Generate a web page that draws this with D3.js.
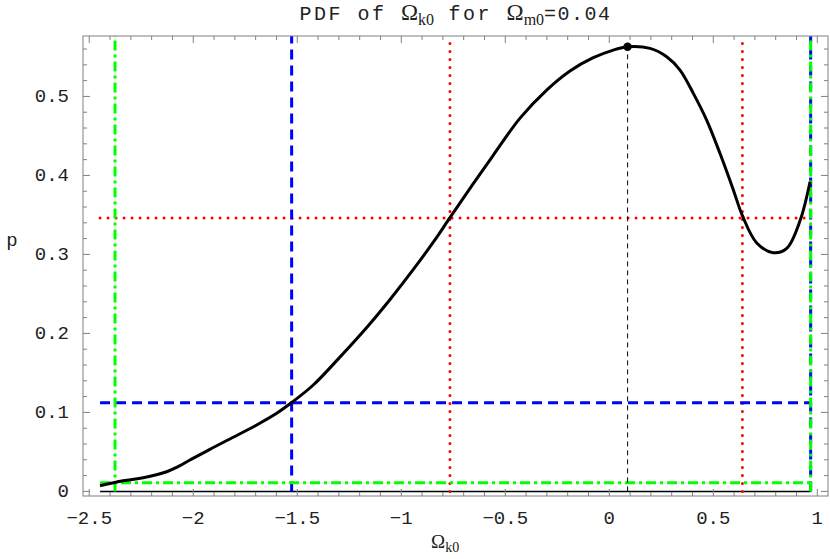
<!DOCTYPE html>
<html>
<head>
<meta charset="utf-8">
<script src="https://cdn.jsdelivr.net/npm/d3@7"></script>
<style>
  html, body { margin: 0; padding: 0; background: #fff; }
  svg { display: block; }
</style>
</head>
<body>
<svg id="chart" width="830" height="559"></svg>
<script>
// ---- Data ----
const curveX = [-2.448, -2.337, -2.240, -2.128, -2.080, -2.016, -1.920, -1.808, -1.695, -1.599,
  -1.527, -1.423, -1.295, -1.166, -1.054, -0.942, -0.846, -0.766, -0.658, -0.558,
  -0.429, -0.301, -0.189, -0.077, 0.019, 0.088, 0.196, 0.276, 0.340, 0.404,
  0.468, 0.532, 0.596, 0.640, 0.709, 0.788, 0.853, 0.918, 0.965];
const curveP = [0.0072, 0.0135, 0.0173, 0.0249, 0.0305, 0.0397, 0.0533, 0.0685, 0.0841, 0.0989,
  0.1125, 0.1347, 0.1700, 0.2075, 0.2430, 0.2810, 0.3155, 0.3465, 0.3880, 0.4255,
  0.4725, 0.5080, 0.5322, 0.5490, 0.5587, 0.5629, 0.5609, 0.5503, 0.5334, 0.5039,
  0.4701, 0.4280, 0.3820, 0.3490, 0.3145, 0.3022, 0.3077, 0.3435, 0.3920];
const peak = { x: 0.088, p: 0.5629 };
const dataRange = [-2.448, 0.968];
const greenLevel = { xs: [-2.376, 0.968], p: 0.0108 };   // dash-dot
const blueLevel  = { xs: [-1.527, 0.968], p: 0.1123 };   // dashed
const redLevel   = { xs: [-0.766, 0.640], p: 0.346 };    // dotted
const xTicks = [-2.5, -2, -1.5, -1, -0.5, 0, 0.5, 1];
const xMinor = d3.range(-25, 11).map(d => d / 10);
const yTicks = [0, 0.1, 0.2, 0.3, 0.4, 0.5];
const yMinor = d3.range(0, 29).map(d => d / 50);
const xDomain = [-2.530, 1.0514];
const yDomain = [-0.00582, 0.5765];

// ---- Layout ----
const svg = d3.select("#chart");
const L = 83, R = 828, T = 36, B = 496;
const x = d3.scaleLinear().domain(xDomain).range([L, R]);
const y = d3.scaleLinear().domain(yDomain).range([B, T]);
const mono = "'Liberation Mono', 'DejaVu Sans Mono', monospace";
const serif = "'Liberation Serif', 'DejaVu Serif', serif";
const frameColor = "#808080";

// Reference lines
const g = svg.append("g");
function hline(p) {
  return g.append("line").attr("x1", x(dataRange[0])).attr("x2", x(dataRange[1]))
    .attr("y1", y(p)).attr("y2", y(p));
}
function vline(xv, p0, p1) {
  return g.append("line").attr("x1", x(xv)).attr("x2", x(xv))
    .attr("y1", y(p0)).attr("y2", y(p1));
}
const styleRed = s => s.attr("stroke", "#ff0000").attr("stroke-width", 3)
  .attr("stroke-dasharray", "0,8").attr("stroke-linecap", "round");
const styleBlue = s => s.attr("stroke", "#0000ff").attr("stroke-width", 3)
  .attr("stroke-dasharray", "10,6");
const styleGreen = s => s.attr("stroke", "#00ff00").attr("stroke-width", 3)
  .attr("stroke-dasharray", "10,4,3,4");

// baseline at p = 0
g.append("line").attr("x1", x(dataRange[0])).attr("x2", x(dataRange[1]))
  .attr("y1", y(0)).attr("y2", y(0)).attr("stroke", "#000").attr("stroke-width", 1.5);

styleRed(hline(redLevel.p));
redLevel.xs.forEach(v => styleRed(vline(v, 0, yDomain[1] - 0.004)));
styleBlue(hline(blueLevel.p));
blueLevel.xs.forEach(v => styleBlue(vline(v, 0, yDomain[1])));
styleGreen(hline(greenLevel.p));
greenLevel.xs.forEach(v => styleGreen(vline(v, 0, yDomain[1])));

// thin dashed line under peak
vline(peak.x, 0, peak.p).attr("stroke", "#000").attr("stroke-width", 1)
  .attr("stroke-dasharray", "5,4");

// Curve
const pts = curveX.map((v, i) => [v, curveP[i]]);
svg.append("path").datum(pts)
  .attr("d", d3.line().x(d => x(d[0])).y(d => y(d[1])).curve(d3.curveCatmullRom.alpha(0.5)))
  .attr("fill", "none").attr("stroke", "#000").attr("stroke-width", 3)
  .attr("stroke-linejoin", "round");
svg.append("circle").attr("cx", x(peak.x)).attr("cy", y(peak.p)).attr("r", 4.2).attr("fill", "#000");

// Frame
svg.append("rect").attr("x", L).attr("y", T).attr("width", R - L).attr("height", B - T)
  .attr("fill", "none").attr("stroke", frameColor).attr("stroke-width", 1);

// Ticks (inward on all four sides)
const tk = svg.append("g").attr("stroke", frameColor).attr("stroke-width", 1);
xMinor.forEach(v => {
  const major = xTicks.some(t => Math.abs(t - v) < 1e-9);
  const len = major ? 7 : 4;
  tk.append("line").attr("x1", x(v)).attr("x2", x(v)).attr("y1", B).attr("y2", B - len);
  tk.append("line").attr("x1", x(v)).attr("x2", x(v)).attr("y1", T).attr("y2", T + len);
});
yMinor.forEach(v => {
  const major = yTicks.some(t => Math.abs(t - v) < 1e-9);
  const len = major ? 7 : 4;
  tk.append("line").attr("x1", L).attr("x2", L + len).attr("y1", y(v)).attr("y2", y(v));
  tk.append("line").attr("x1", R).attr("x2", R - len).attr("y1", y(v)).attr("y2", y(v));
});

// Tick labels
const fmt = v => (v < 0 ? "\u2212" : "") + String(Math.abs(v));
svg.append("g").selectAll("text").data(xTicks).join("text")
  .attr("x", d => x(d)).attr("y", 524).attr("text-anchor", "middle")
  .attr("font-family", mono).attr("font-size", 19).attr("fill", "#222")
  .text(fmt);
svg.append("g").selectAll("text").data(yTicks).join("text")
  .attr("x", 69).attr("y", d => y(d) + 6).attr("text-anchor", "end")
  .attr("font-family", mono).attr("font-size", 19).attr("fill", "#222")
  .text(fmt);

// Title
const title = svg.append("text").attr("x", (L + R) / 2).attr("y", 20)
  .attr("text-anchor", "middle").attr("fill", "#222");
title.append("tspan").attr("font-family", mono).attr("font-size", 20)
  .attr("letter-spacing", 2.5).text("PDF of ");
title.append("tspan").attr("font-family", serif).attr("font-size", 23).text("\u03A9");
title.append("tspan").attr("font-family", serif).attr("font-size", 16).attr("dy", 5).text("k0");
title.append("tspan").attr("font-family", mono).attr("font-size", 20).attr("dy", -5)
  .attr("letter-spacing", 2.5).text(" for ");
title.append("tspan").attr("font-family", serif).attr("font-size", 23).text("\u03A9");
title.append("tspan").attr("font-family", serif).attr("font-size", 16).attr("dy", 5).text("m0");
title.append("tspan").attr("font-family", mono).attr("font-size", 20).attr("dy", -5)
  .attr("letter-spacing", 1.5).text("=0.04");

// Axis labels
const xl = svg.append("text").attr("x", 431).attr("y", 548)
  .attr("text-anchor", "start").attr("fill", "#222");
xl.append("tspan").attr("font-family", serif).attr("font-size", 19).text("\u03A9");
xl.append("tspan").attr("font-family", serif).attr("font-size", 14).attr("dy", 4).text("k0");

svg.append("text").attr("x", 12).attr("y", 246).attr("text-anchor", "middle")
  .attr("font-family", mono).attr("font-size", 19).attr("fill", "#222").text("p");
</script>
</body>
</html>
